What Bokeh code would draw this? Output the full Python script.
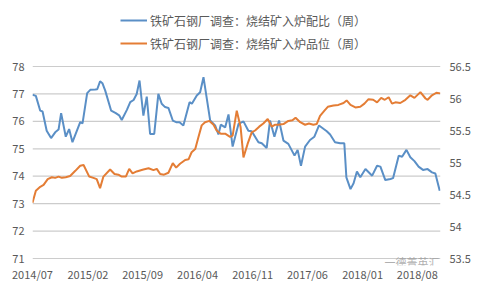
import pandas as pd
from bokeh.plotting import figure
from bokeh.models import (Range1d, LinearAxis, FixedTicker, Legend, LegendItem,
                          DatetimeTickFormatter, Label)
from bokeh.embed import file_html
from bokeh.resources import INLINE

# ---------------- data ----------------
start_date = "2014-07-01"
end_date = "2018-10-30"

blue_name = "铁矿石钢厂调查：烧结矿入炉配比（周）"
orange_name = "铁矿石钢厂调查：烧结矿入炉品位（周）"
watermark = "一德菁英汇"

# days since 2014-07-01
blue_days = [0, 13, 30, 39, 55, 72, 88, 101, 111, 129,
             142, 155, 185, 194, 212, 224, 243, 251, 262, 271,
             282, 305, 323, 336, 346, 366, 379, 392, 404, 415,
             430, 443, 456, 472, 488, 501, 514, 527, 544, 557,
             570, 585, 609, 618, 637, 650, 663, 689, 708, 721,
             730, 747, 760, 776, 799, 818, 837, 850, 876, 889,
             908, 921, 938, 956, 973, 992, 1016, 1028, 1041, 1057,
             1076, 1093, 1111, 1128, 1141, 1154, 1173, 1193, 1209, 1217,
             1233, 1245, 1258, 1271, 1291, 1317, 1336, 1349, 1368, 1388,
             1398, 1420, 1433, 1450, 1465, 1481, 1497, 1514, 1532, 1549,
             1562, 1579]
blue_vals = [76.97, 76.93, 76.39, 76.36, 75.66, 75.39, 75.6, 75.7, 76.3, 75.44,
             75.72, 75.24, 75.97, 75.93, 77.03, 77.15, 77.16, 77.17, 77.46, 77.39,
             77.12, 76.39, 76.3, 76.22, 76.05, 76.42, 76.7, 76.78, 77.0, 77.49,
             76.21, 76.9, 75.54, 75.54, 77.0, 76.64, 76.52, 76.49, 76.03, 75.97,
             75.97, 75.85, 76.7, 76.64, 76.94, 77.06, 77.61, 76.03, 75.85, 75.52,
             75.88, 75.78, 76.25, 75.08, 75.91, 76.0, 75.66, 75.64, 75.24, 75.2,
             75.03, 76.03, 75.44, 76.03, 75.3, 75.18, 74.75, 74.96, 74.38, 75.08,
             75.32, 75.44, 75.85, 75.73, 75.64, 75.52, 75.24, 75.2, 75.2, 73.96,
             73.53, 73.74, 74.17, 73.96, 74.26, 74.02, 74.38, 74.35, 73.86, 73.9,
             73.93, 74.75, 74.71, 74.96, 74.69, 74.55, 74.35, 74.23, 74.26, 74.14,
             74.1, 73.47]

orange_days = [0, 13, 30, 43, 59, 75, 88, 101, 114, 129,
               146, 166, 185, 198, 220, 236, 249, 262, 275, 301,
               318, 333, 346, 362, 375, 388, 404, 430, 450, 469,
               482, 495, 510, 527, 544, 557, 572, 592, 605, 617,
               631, 643, 656, 669, 686, 702, 714, 730, 747, 766,
               776, 792, 807, 818, 834, 850, 863, 879, 895, 912,
               928, 941, 953, 973, 992, 1008, 1020, 1038, 1057, 1072,
               1089, 1102, 1115, 1132, 1145, 1167, 1186, 1206, 1218, 1233,
               1252, 1271, 1287, 1303, 1321, 1336, 1352, 1366, 1381, 1394,
               1407, 1426, 1446, 1465, 1481, 1504, 1524, 1532, 1549, 1566,
               1581]
orange_vals = [54.37, 54.56, 54.62, 54.65, 54.74, 54.77, 54.76, 54.78, 54.76, 54.77,
               54.79, 54.87, 54.95, 54.96, 54.78, 54.76, 54.74, 54.6, 54.78, 54.89,
               54.82, 54.81, 54.78, 54.78, 54.9, 54.83, 54.86, 54.89, 54.91, 54.88,
               54.9, 54.82, 54.81, 54.84, 54.99, 54.92, 54.98, 55.04, 55.05, 55.16,
               55.21, 55.39, 55.58, 55.63, 55.65, 55.59, 55.5, 55.45, 55.45, 55.4,
               55.42, 55.81, 55.55, 55.08, 55.29, 55.47, 55.5, 55.56, 55.61, 55.68,
               55.56, 55.59, 55.59, 55.6, 55.65, 55.66, 55.7, 55.63, 55.59, 55.61,
               55.59, 55.6, 55.73, 55.81, 55.87, 55.89, 55.9, 55.93, 55.97, 55.9,
               55.86, 55.87, 55.92, 55.99, 55.98, 55.94, 56.01, 55.98, 56.02, 55.92,
               55.94, 55.93, 55.98, 56.05, 56.01, 56.1, 56.0, 55.98, 56.05, 56.09,
               56.08]

x_tick_labels = ["2014/07", "2015/02", "2015/09", "2016/04",
                 "2016/11", "2017/06", "2018/01", "2018/08"]
left_ticks = [71, 72, 73, 74, 75, 76, 77, 78]
right_ticks = [53.5, 54, 54.5, 55, 55.5, 56, 56.5]

# ---------------- build ----------------
t0 = pd.Timestamp(start_date)
t1 = pd.Timestamp(end_date)
blue_x = [t0 + pd.Timedelta(days=d) for d in blue_days]
orange_x = [t0 + pd.Timedelta(days=d) for d in orange_days]

BLUE = "#5a8fc6"
ORANGE = "#e47d35"
TXT = "#595959"
GRID = "#cccccc"
FONT = "Noto Sans CJK SC"

# Frame spans the full height above the x labels; the value ranges are padded
# so that the gridded area sits where the reference has it and the legend
# (drawn inside the frame) sits above it.
L_LO, L_HI = left_ticks[0], left_ticks[-1]
R_LO, R_HI = right_ticks[0], right_ticks[-1]
GRID_H = 192
TOP_PAD = 66 / GRID_H
BOT_PAD = 7 / GRID_H
ls = L_HI - L_LO
rs = R_HI - R_LO

p = figure(width=484, height=289, output_backend="svg", toolbar_location=None,
           x_axis_type="datetime",
           x_range=Range1d(t0, t1),
           y_range=Range1d(L_LO - ls * BOT_PAD, L_HI + ls * TOP_PAD),
           min_border_left=32, min_border_right=44,
           min_border_top=0, min_border_bottom=24)
p.outline_line_color = None
p.background_fill_color = "white"
p.border_fill_color = "white"
p.extra_y_ranges = {"right": Range1d(R_LO - rs * BOT_PAD, R_HI + rs * TOP_PAD)}

tick_ts = [pd.to_datetime(s, format="%Y/%m") for s in x_tick_labels]
tick_ms = [t.value / 1e6 for t in tick_ts]
p.xaxis.ticker = FixedTicker(ticks=tick_ms)
p.xaxis.formatter = DatetimeTickFormatter(days="%Y/%m", months="%Y/%m", years="%Y/%m")
p.yaxis.ticker = FixedTicker(ticks=left_ticks)

raxis = LinearAxis(y_range_name="right", ticker=FixedTicker(ticks=right_ticks))
p.add_layout(raxis, "right")

for ax in [p.xaxis[0], p.yaxis[0], raxis]:
    ax.axis_line_color = None
    ax.major_tick_line_color = None
    ax.minor_tick_line_color = None
    ax.major_tick_out = 0
    ax.major_tick_in = 0
    ax.minor_tick_out = 0
    ax.minor_tick_in = 0
    ax.major_label_text_color = TXT
    ax.major_label_text_font = FONT
    ax.major_label_text_font_size = "11px"
p.xaxis.major_label_standoff = 0
p.yaxis.major_label_standoff = 8
raxis.major_label_standoff = 9

p.xgrid.grid_line_color = None
p.ygrid.grid_line_color = None

# horizontal gridlines at the left-axis ticks, drawn as a glyph across the x range
p.segment(x0=[t0] * len(left_ticks), x1=[t1] * len(left_ticks),
          y0=left_ticks, y1=left_ticks, line_color=GRID, line_width=1.2)

r_blue = p.line(blue_x, blue_vals, line_color=BLUE, line_width=2)
r_orange = p.line(orange_x, orange_vals, line_color=ORANGE, line_width=2,
                  y_range_name="right")

legend = Legend(items=[LegendItem(label=blue_name, renderers=[r_blue]),
                       LegendItem(label=orange_name, renderers=[r_orange])],
                location=(88, 212), orientation="vertical",
                glyph_width=27, glyph_height=20, label_height=20,
                spacing=3, padding=0, margin=0, label_standoff=3,
                label_text_font=FONT, label_text_font_size="12px",
                label_text_color=TXT, border_line_color=None,
                background_fill_alpha=0)
p.add_layout(legend, "center")

wm = Label(x=t1, y=L_LO - ls * 3 / GRID_H, x_offset=-1,
           text=watermark, text_font=FONT, text_font_size="11px",
           text_align="right", text_baseline="middle",
           text_color="#9a9a9a", text_alpha=0.8)
p.add_layout(wm)

open("out.html", "w").write(file_html(p, INLINE))
